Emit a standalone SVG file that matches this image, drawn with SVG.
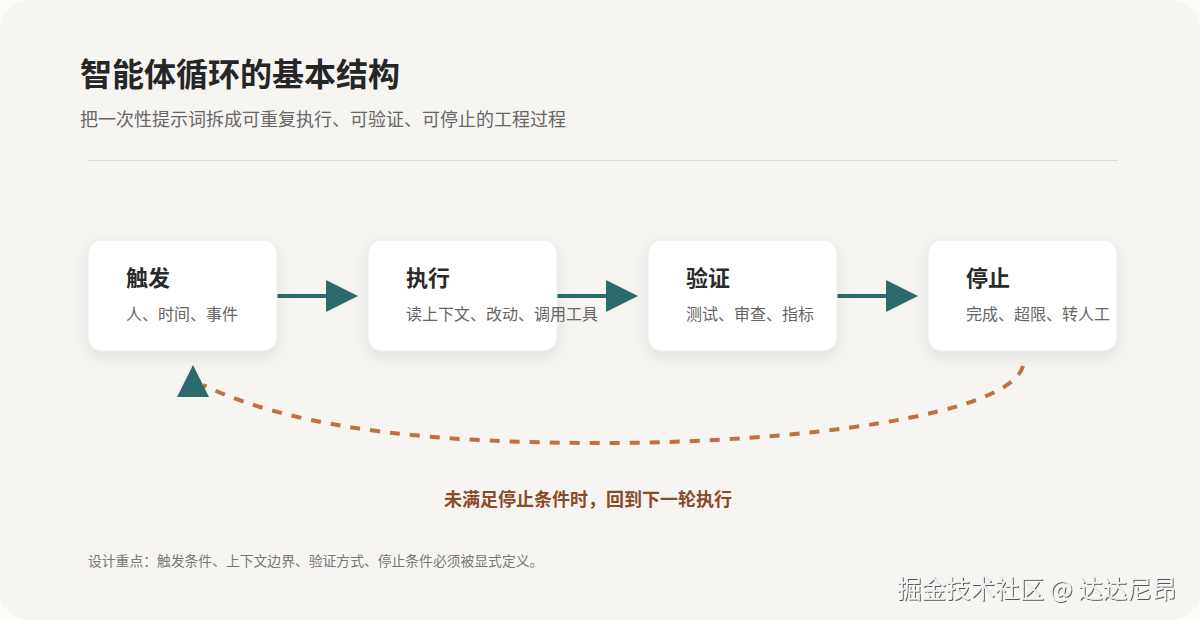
<svg xmlns="http://www.w3.org/2000/svg" width="1200" height="620" viewBox="0 0 1200 620">
  <defs>
    <filter id="shadow" x="-20%" y="-30%" width="140%" height="170%">
      <feDropShadow dx="0" dy="5" stdDeviation="8" flood-color="#000" flood-opacity="0.09"/>
    </filter>
    <filter id="wm" x="-5%" y="-20%" width="110%" height="150%">
      <feDropShadow dx="1" dy="1" stdDeviation="0.6" flood-color="#333" flood-opacity="0.8"/>
    </filter>
    <style>
      .cjk { font-family: "Noto Sans CJK SC", "Noto Sans", "Liberation Sans", sans-serif; }
      .title { font-size: 32px; font-weight: 700; fill: #262626; }
      .subtitle { font-size: 18px; fill: #666; }
      .box { fill: #ffffff; stroke: #ececec; stroke-width: 1; filter: url(#shadow); }
      .ntitle { font-size: 22px; font-weight: 700; fill: #2a2a2a; }
      .nsub { font-size: 16px; fill: #666; }
      .flow { stroke: #2c6b6b; stroke-width: 4; fill: none; }
      .head { fill: #2c6b6b; }
      .loop { stroke: #c2703f; stroke-width: 4; fill: none; stroke-dasharray: 10 10; }
      .looplabel { font-size: 18px; font-weight: 700; fill: #8c4a2a; }
      .footer { font-size: 13.8px; fill: #777; }
      .watermark { font-size: 24.5px; fill: #f3f3f3; filter: url(#wm); }
    </style>
  </defs>

  <rect x="0" y="0" width="1200" height="620" fill="#fbfbfa"/>
  <rect x="0" y="0" width="1200" height="620" rx="28" fill="#f6f5f2"/>

  <text class="cjk title" x="80" y="86">智能体循环的基本结构</text>
  <text class="cjk subtitle" x="80" y="126">把一次性提示词拆成可重复执行、可验证、可停止的工程过程</text>
  <line x1="88" y1="160.5" x2="1118" y2="160.5" stroke="#dddcd9" stroke-width="1"/>

  <g id="connectors">
    <line class="flow" x1="277" y1="296" x2="330" y2="296"/>
    <polygon class="head" points="326,280 358,296 326,312"/>
    <line class="flow" x1="557" y1="296" x2="610" y2="296"/>
    <polygon class="head" points="606,280 638,296 606,312"/>
    <line class="flow" x1="837" y1="296" x2="890" y2="296"/>
    <polygon class="head" points="886,280 918,296 886,312"/>
    <path class="loop" d="M1023,366 C1010,415 800,443 600,443 C450,443 300,432 203,385"/>
    <polygon class="head" points="193,365 209,397 177,397"/>
  </g>

  <g id="node-trigger">
    <rect class="box" x="88" y="240" width="189" height="111" rx="14"/>
    <text class="cjk ntitle" x="126" y="286">触发</text>
    <text class="cjk nsub" x="126" y="320">人、时间、事件</text>
  </g>
  <g id="node-execute">
    <rect class="box" x="368" y="240" width="189" height="111" rx="14"/>
    <text class="cjk ntitle" x="406" y="286">执行</text>
    <text class="cjk nsub" x="406" y="320">读上下文、改动、调用工具</text>
  </g>
  <g id="node-verify">
    <rect class="box" x="648" y="240" width="189" height="111" rx="14"/>
    <text class="cjk ntitle" x="686" y="286">验证</text>
    <text class="cjk nsub" x="686" y="320">测试、审查、指标</text>
  </g>
  <g id="node-stop">
    <rect class="box" x="928" y="240" width="189" height="111" rx="14"/>
    <text class="cjk ntitle" x="966" y="286">停止</text>
    <text class="cjk nsub" x="966" y="320">完成、超限、转人工</text>
  </g>

  <text class="cjk looplabel" x="588" y="506" text-anchor="middle">未满足停止条件时，回到下一轮执行</text>
  <text class="cjk footer" x="88" y="566">设计重点：触发条件、上下文边界、验证方式、停止条件必须被显式定义。</text>
  <text class="cjk watermark" x="897" y="598">掘金技术社区 @ 达达尼昂</text>
</svg>
